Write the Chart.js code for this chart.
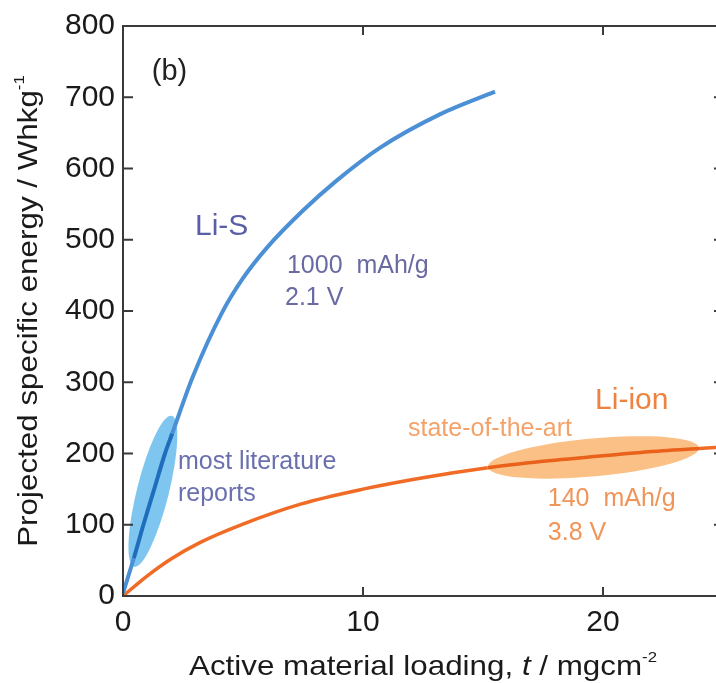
<!DOCTYPE html>
<html>
<head>
<meta charset="utf-8">
<script src="https://cdn.jsdelivr.net/npm/chart.js@4.4.1/dist/chart.umd.min.js"></script>
<style>
  html, body { margin: 0; padding: 0; background: #fff; overflow: hidden; }
  #wrap { width: 730px; height: 683px; }
</style>
</head>
<body>
<div id="wrap"><canvas id="chart" width="730" height="683"></canvas></div>
<script>
// active material loading t (mg/cm2) vs projected specific energy (Wh/kg)
const liSLoading = [0, 0.45, 0.85, 1.3, 1.75, 2.05, 2.9, 4.1, 5, 6, 7.5, 8.9, 10.7, 13.2, 15.5];
const liSEnergy  = [4, 53, 100, 150, 200, 228, 307, 396, 446, 489, 541, 583, 629, 676, 708];
const liIonLoading = [0, 1, 2, 3.2, 5, 7.4, 10, 12.5, 15.2, 17.5, 20, 22.5, 24, 25];
const liIonEnergy  = [0, 28, 52, 75, 101, 129, 150, 166, 180, 189, 197, 204, 207, 209];

const xTicks = [0, 10, 20];
const yTicks = [0, 100, 200, 300, 400, 500, 600, 700, 800];

// shaded ranges: the two ends of each ellipse (loading, energy)
const liSRange = [[0.46, 41], [2.03, 253]];
const liIonRange = [[15.2, 181], [24.0, 208]];

const FONT = '"Liberation Sans", Arial, Helvetica, sans-serif';

const notes = [
  { text: '(b)', x: 1.2, y: 724, size: 29, color: '#222' },
  { text: 'Li-S', x: 3.0, y: 506, size: 30, color: '#5a5ea6' },
  { text: '1000  mAh/g', x: 6.83, y: 454, size: 25, color: '#6a6aa2' },
  { text: '2.1 V', x: 6.75, y: 408, size: 25, color: '#6a6aa2' },
  { text: 'most literature', x: 2.29, y: 178, size: 25, color: '#6a70ae' },
  { text: 'reports', x: 2.29, y: 134, size: 25, color: '#6a70ae' },
  { text: 'Li-ion', x: 19.67, y: 263, size: 30, color: '#ef823e' },
  { text: 'state-of-the-art', x: 11.875, y: 225, size: 25, color: '#f3a36a' },
  { text: '140  mAh/g', x: 17.7, y: 127, size: 25, color: '#f0955a' },
  { text: '3.8 V', x: 17.7, y: 78, size: 25, color: '#f0955a' }
];

const toPts = (xs, ys) => xs.map((x, i) => ({ x: x, y: ys[i] }));
const inRange = (c, r) => c.p0.parsed.x >= r[0][0] - 0.02 && c.p1.parsed.x <= r[1][0] + 0.06;

function drawEllipse(ctx, sx, sy, r, half, color) {
  const x0 = sx.getPixelForValue(r[0][0]), y0 = sy.getPixelForValue(r[0][1]);
  const x1 = sx.getPixelForValue(r[1][0]), y1 = sy.getPixelForValue(r[1][1]);
  ctx.save();
  ctx.beginPath();
  ctx.ellipse((x0 + x1) / 2, (y0 + y1) / 2, Math.hypot(x1 - x0, y1 - y0) / 2, half,
    Math.atan2(y1 - y0, x1 - x0), 0, Math.PI * 2);
  ctx.fillStyle = color;
  ctx.fill();
  ctx.restore();
}

// centred run of mixed fonts, stretched a little sideways like the original lettering
function drawRich(ctx, parts, cx, baseY, stretch) {
  let total = 0;
  parts.forEach(p => { ctx.font = p.font; p.w = ctx.measureText(p.t).width; total += p.w; });
  ctx.save();
  ctx.translate(cx, baseY);
  ctx.scale(stretch, 1);
  let x = -total / 2;
  parts.forEach(p => {
    ctx.font = p.font;
    ctx.fillText(p.t, x, -(p.rise || 0));
    x += p.w;
  });
  ctx.restore();
}

const decor = {
  id: 'decor',
  beforeDatasetsDraw(chart) {
    const { ctx, scales: { x, y } } = chart;
    drawEllipse(ctx, x, y, liSRange, 16, 'rgba(112,192,238,0.9)');
    drawEllipse(ctx, x, y, liIonRange, 19, 'rgba(250,185,120,0.9)');
  },
  afterDatasetsDraw(chart) {
    const { ctx, chartArea: a, scales: { x, y } } = chart;
    ctx.save();
    // box and inward ticks
    ctx.strokeStyle = '#3a3a3a';
    ctx.lineWidth = 2;
    ctx.strokeRect(a.left, a.top, a.right - a.left, a.bottom - a.top);
    ctx.beginPath();
    xTicks.slice(1).forEach(v => {
      const px = x.getPixelForValue(v);
      ctx.moveTo(px, a.bottom); ctx.lineTo(px, a.bottom - 9);
      ctx.moveTo(px, a.top); ctx.lineTo(px, a.top + 9);
    });
    yTicks.slice(1, -1).forEach(v => {
      const py = y.getPixelForValue(v);
      ctx.moveTo(a.left, py); ctx.lineTo(a.left + 10, py);
      ctx.moveTo(a.right, py); ctx.lineTo(a.right - 9, py);
    });
    ctx.stroke();

    // annotations
    ctx.textAlign = 'left';
    ctx.textBaseline = 'alphabetic';
    notes.forEach(n => {
      ctx.font = n.size + 'px ' + FONT;
      ctx.fillStyle = n.color;
      ctx.fillText(n.text, x.getPixelForValue(n.x), y.getPixelForValue(n.y));
    });

    // axis titles
    ctx.fillStyle = '#1a1a1a';
    const reg = '28px ' + FONT, ital = 'italic 28px ' + FONT, sup = '15px ' + FONT;
    drawRich(ctx, [
      { t: 'Active material loading, ', font: reg },
      { t: 't', font: ital },
      { t: ' / mgcm', font: reg },
      { t: '-2', font: sup, rise: 13 }
    ], (a.left + a.right) / 2, 675, 1.12);
    ctx.translate(37, (a.top + a.bottom) / 2);
    ctx.rotate(-Math.PI / 2);
    drawRich(ctx, [
      { t: 'Projected specific energy / Whkg', font: reg },
      { t: '-1', font: sup, rise: 13 }
    ], 0, 0, 1.12);
    ctx.restore();
  }
};

new Chart(document.getElementById('chart'), {
  type: 'line',
  data: {
    datasets: [
      {
        label: 'Li-S',
        data: toPts(liSLoading, liSEnergy),
        borderColor: '#4b90d5',
        borderWidth: 4,
        pointRadius: 0,
        cubicInterpolationMode: 'monotone',
        segment: { borderColor: c => inRange(c, liSRange) ? '#1f6dbd' : undefined }
      },
      {
        label: 'Li-ion',
        data: toPts(liIonLoading, liIonEnergy),
        borderColor: '#f06c26',
        borderWidth: 3.5,
        pointRadius: 0,
        cubicInterpolationMode: 'monotone',
        segment: { borderColor: c => inRange(c, liIonRange) ? '#e9611a' : undefined }
      }
    ]
  },
  options: {
    responsive: false,
    animation: false,
    devicePixelRatio: 1,
    layout: { padding: { top: 25, right: 7, left: 0, bottom: 0 } },
    plugins: { legend: { display: false }, tooltip: { enabled: false } },
    scales: {
      x: {
        type: 'linear',
        min: 0,
        max: 25,
        grid: { display: false, drawTicks: false },
        border: { display: false },
        afterBuildTicks: s => { s.ticks = xTicks.map(v => ({ value: v })); },
        afterFit: s => { s.height = 87; },
        ticks: { padding: 9, color: '#1a1a1a', maxRotation: 0, font: { size: 30, family: FONT } }
      },
      y: {
        type: 'linear',
        min: 0,
        max: 800,
        grid: { display: false, drawTicks: false },
        border: { display: false },
        afterBuildTicks: s => { s.ticks = yTicks.map(v => ({ value: v })); },
        afterFit: s => { s.width = 123; },
        ticks: { padding: 8, color: '#1a1a1a', font: { size: 30, family: FONT } }
      }
    }
  },
  plugins: [decor]
});
</script>
</body>
</html>
